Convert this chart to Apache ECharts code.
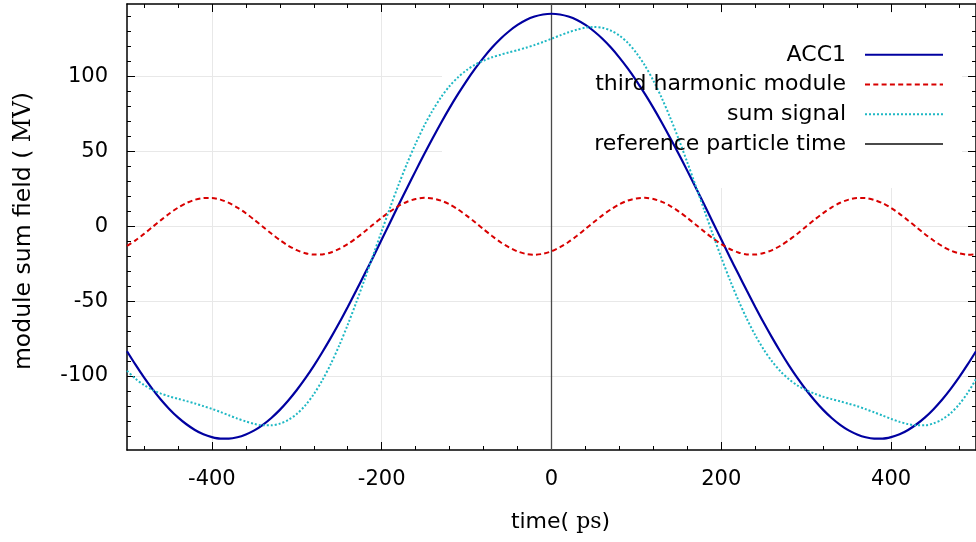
<!DOCTYPE html>
<html>
<head>
<meta charset="utf-8">
<script src="https://cdn.jsdelivr.net/npm/echarts@6/dist/echarts.min.js"></script>
<style>html,body{margin:0;padding:0;background:#fff}#c{width:976px;height:542px}</style>
</head>
<body>
<div id="c"></div>
<script>
// time in ps
const time = [-500,-490,-480,-470,-460,-450,-440,-430,-420,-410,-400,-390,-380,-370,-360,-350,-340,-330,-320,-310,-300,-290,-280,-270,-260,-250,-240,-230,-220,-210,-200,-190,-180,-170,-160,-150,-140,-130,-120,-110,-100,-90,-80,-70,-60,-50,-40,-30,-20,-10,0,10,20,30,40,50,60,70,80,90,100,110,120,130,140,150,160,170,180,190,200,210,220,230,240,250,260,270,280,290,300,310,320,330,340,350,360,370,380,390,400,410,420,430,440,450,460,470,480,490,500];
// module sum field, MV
const acc1 = [-83.5,-92.5,-101.0,-108.8,-115.9,-122.2,-127.7,-132.3,-136.1,-139.0,-140.9,-141.9,-141.9,-141.0,-139.1,-136.4,-132.7,-128.1,-122.7,-116.4,-109.4,-101.7,-93.3,-84.2,-74.6,-64.5,-53.9,-43.0,-31.8,-20.5,-8.9,2.7,14.3,25.7,37.0,48.1,58.8,69.2,79.1,88.4,97.2,105.3,112.7,119.4,125.3,130.3,134.5,137.8,140.1,141.5,142.0,141.5,140.1,137.8,134.5,130.3,125.3,119.4,112.7,105.3,97.2,88.4,79.1,69.2,58.8,48.1,37.0,25.7,14.3,2.7,-8.9,-20.5,-31.8,-43.0,-53.9,-64.5,-74.6,-84.2,-93.3,-101.7,-109.4,-116.4,-122.7,-128.1,-132.7,-136.4,-139.1,-141.0,-141.9,-141.9,-140.9,-139.0,-136.1,-132.3,-127.7,-122.2,-115.9,-108.8,-101.0,-92.5,-83.5];
const thirdHarmonic = [-13.1,-9.4,-5.1,-0.5,4.1,8.5,12.4,15.5,17.7,18.8,18.9,17.8,15.6,12.5,8.7,4.3,-0.3,-4.9,-9.2,-13.0,-16.0,-18.0,-18.9,-18.8,-17.5,-15.1,-11.9,-7.9,-3.5,1.2,5.7,9.9,13.6,16.4,18.2,19.0,18.6,17.1,14.6,11.2,7.1,2.7,-2.0,-6.5,-10.7,-14.1,-16.8,-18.5,-19.0,-18.4,-16.7,-14.0,-10.5,-6.4,-1.8,2.8,7.3,11.3,14.7,17.2,18.6,19.0,18.2,16.3,13.5,9.8,5.6,1.0,-3.6,-8.1,-12.0,-15.2,-17.5,-18.8,-18.9,-17.9,-15.9,-12.9,-9.1,-4.8,-0.1,4.5,8.8,12.6,15.7,17.8,18.9,18.8,17.6,15.4,12.2,8.3,3.9,-0.7,-5.3,-9.5,-13.2,-16.2,-18.1,-19.0,-18.7];
const sumSignal = [-96.6,-101.9,-106.1,-109.3,-111.8,-113.7,-115.3,-116.8,-118.4,-120.2,-122.0,-124.1,-126.3,-128.5,-130.4,-132.1,-133.0,-133.0,-131.9,-129.4,-125.4,-119.7,-112.2,-103.0,-92.1,-79.6,-65.8,-50.9,-35.3,-19.3,-3.2,12.6,27.9,42.1,55.2,67.1,77.4,86.3,93.7,99.6,104.3,108.0,110.7,112.9,114.6,116.2,117.7,119.3,121.1,123.1,125.3,127.5,129.6,131.4,132.7,133.1,132.6,130.7,127.4,122.5,115.8,107.4,97.3,85.5,72.3,57.9,42.6,26.7,10.7,-5.4,-20.9,-35.7,-49.3,-61.8,-72.8,-82.4,-90.5,-97.1,-102.4,-106.5,-109.5,-111.9,-113.9,-115.5,-117.0,-118.6,-120.2,-122.2,-124.3,-126.5,-128.7,-130.7,-132.2,-133.0,-133.0,-131.7,-129.1,-125.0,-119.1,-111.5,-102.2];
const refTime = [0, 0];
const refField = [-149.5, 148.5];

const xMajor = [-400,-200,0,200,400];
const xMinor = [-480,-440,-360,-320,-280,-240,-160,-120,-80,-40,40,80,120,160,240,280,320,360,440,480];
const yMajor = [-100,-50,0,50,100];
const yMinor = [-140,-130,-120,-110,-90,-80,-70,-60,-40,-30,-20,-10,10,20,30,40,60,70,80,90,110,120,130,140];

const seriesNames = ['ACC1','third harmonic module','sum signal','reference particle time'];
const xName = ['time(', ' ps', ')'];
const yName = ['module sum field (', ' MV', ')'];

const FONT = 'DejaVu Sans';
const SERIF = 'DejaVu Serif';
const XMIN = -500, XMAX = 500, YMIN = -149.5, YMAX = 148.5;

function pairs(xs, ys){ return xs.map((x,i)=>[x, ys[i]]); }

function ax(kind, pos, ticks, len, showLine, extra){
  return Object.assign({
    type:'value', min: kind==='x'?XMIN:YMIN, max: kind==='x'?XMAX:YMAX, position:pos,
    axisLine:{show:showLine, onZero:false, lineStyle:{color:'#000', width:1.5}},
    axisTick:{show:true, inside:true, length:len, customValues:ticks, lineStyle:{color:'#000', width:1}},
    axisLabel:{show:false},
    splitLine:{show:false}
  }, extra||{});
}

const chart = echarts.init(document.getElementById('c'), null, {renderer:'canvas'});
const option = {
  animation:false,
  backgroundColor:'#fff',
  grid:{left:127, top:4, width:851, height:446, containLabel:false},
  graphic:[{type:'rect', z:1, shape:{x:442, y:13, width:520, height:175}, style:{fill:'#fff'}, silent:true}],
  legend:{
    orient:'vertical', align:'right', right:27, top:35, itemWidth:78, itemHeight:14, itemGap:0,
    data:seriesNames,
    itemStyle:{opacity:0},
    textStyle:{fontFamily:FONT, fontSize:22, color:'#000', lineHeight:29.7, padding:[0,14,0,0]}
  },
  xAxis:[
    ax('x','bottom', xMajor, 8, true, {
      axisLabel:{show:true, customValues:xMajor, margin:19, fontFamily:FONT, fontSize:21, color:'#000'},
      splitLine:{show:true, lineStyle:{color:'#e8e8e8', width:1}},
      name: '{s|'+xName[0]+'}{m|'+xName[1]+'}{s|'+xName[2]+'}', nameLocation:'middle', nameGap:61,
      nameTextStyle:{padding:[0,0,0,18], rich:{s:{fontFamily:FONT, fontSize:22, color:'#000'}, m:{fontFamily:SERIF, fontSize:22, color:'#000'}}}
    }),
    ax('x','bottom', xMinor, 4, false),
    ax('x','top', xMajor, 8, true),
    ax('x','top', xMinor, 4, false)
  ],
  yAxis:[
    ax('y','left', yMajor, 8, true, {
      axisLabel:{show:true, customValues:yMajor, margin:19, fontFamily:FONT, fontSize:21, color:'#000'},
      splitLine:{show:true, lineStyle:{color:'#e8e8e8', width:1}},
      name: '{s|'+yName[0]+'}{m|'+yName[1]+'}{s|'+yName[2]+'}', nameLocation:'middle', nameGap:91, nameRotate:90,
      nameTextStyle:{padding:[0,8,0,0], rich:{s:{fontFamily:FONT, fontSize:23.5, color:'#000'}, m:{fontFamily:SERIF, fontSize:23.5, color:'#000'}}}
    }),
    ax('y','left', yMinor, 4, false),
    ax('y','right', yMajor, 8, true),
    ax('y','right', yMinor, 4, false)
  ],
  series:[
    {name:seriesNames[3], type:'line', data:pairs(refTime, refField), showSymbol:false, symbol:'none', z:2,
      lineStyle:{color:'#4a4a4a', width:1.3}, itemStyle:{color:'#4a4a4a'}},
    {name:seriesNames[0], type:'line', data:pairs(time, acc1), smooth:0.3, showSymbol:false, symbol:'none', z:3,
      lineStyle:{color:'#0000a0', width:2.2}, itemStyle:{color:'#0000a0'}},
    {name:seriesNames[1], type:'line', data:pairs(time, thirdHarmonic), smooth:0.3, showSymbol:false, symbol:'none', z:3,
      lineStyle:{color:'#d80000', width:2, type:[5,3.3]}, itemStyle:{color:'#d80000'}},
    {name:seriesNames[2], type:'line', data:pairs(time, sumSignal), smooth:0.3, showSymbol:false, symbol:'none', z:3,
      lineStyle:{color:'#1fb8c4', width:2, type:[2,2]}, itemStyle:{color:'#1fb8c4'}}
  ]
};
chart.setOption(option);
</script>
</body>
</html>
